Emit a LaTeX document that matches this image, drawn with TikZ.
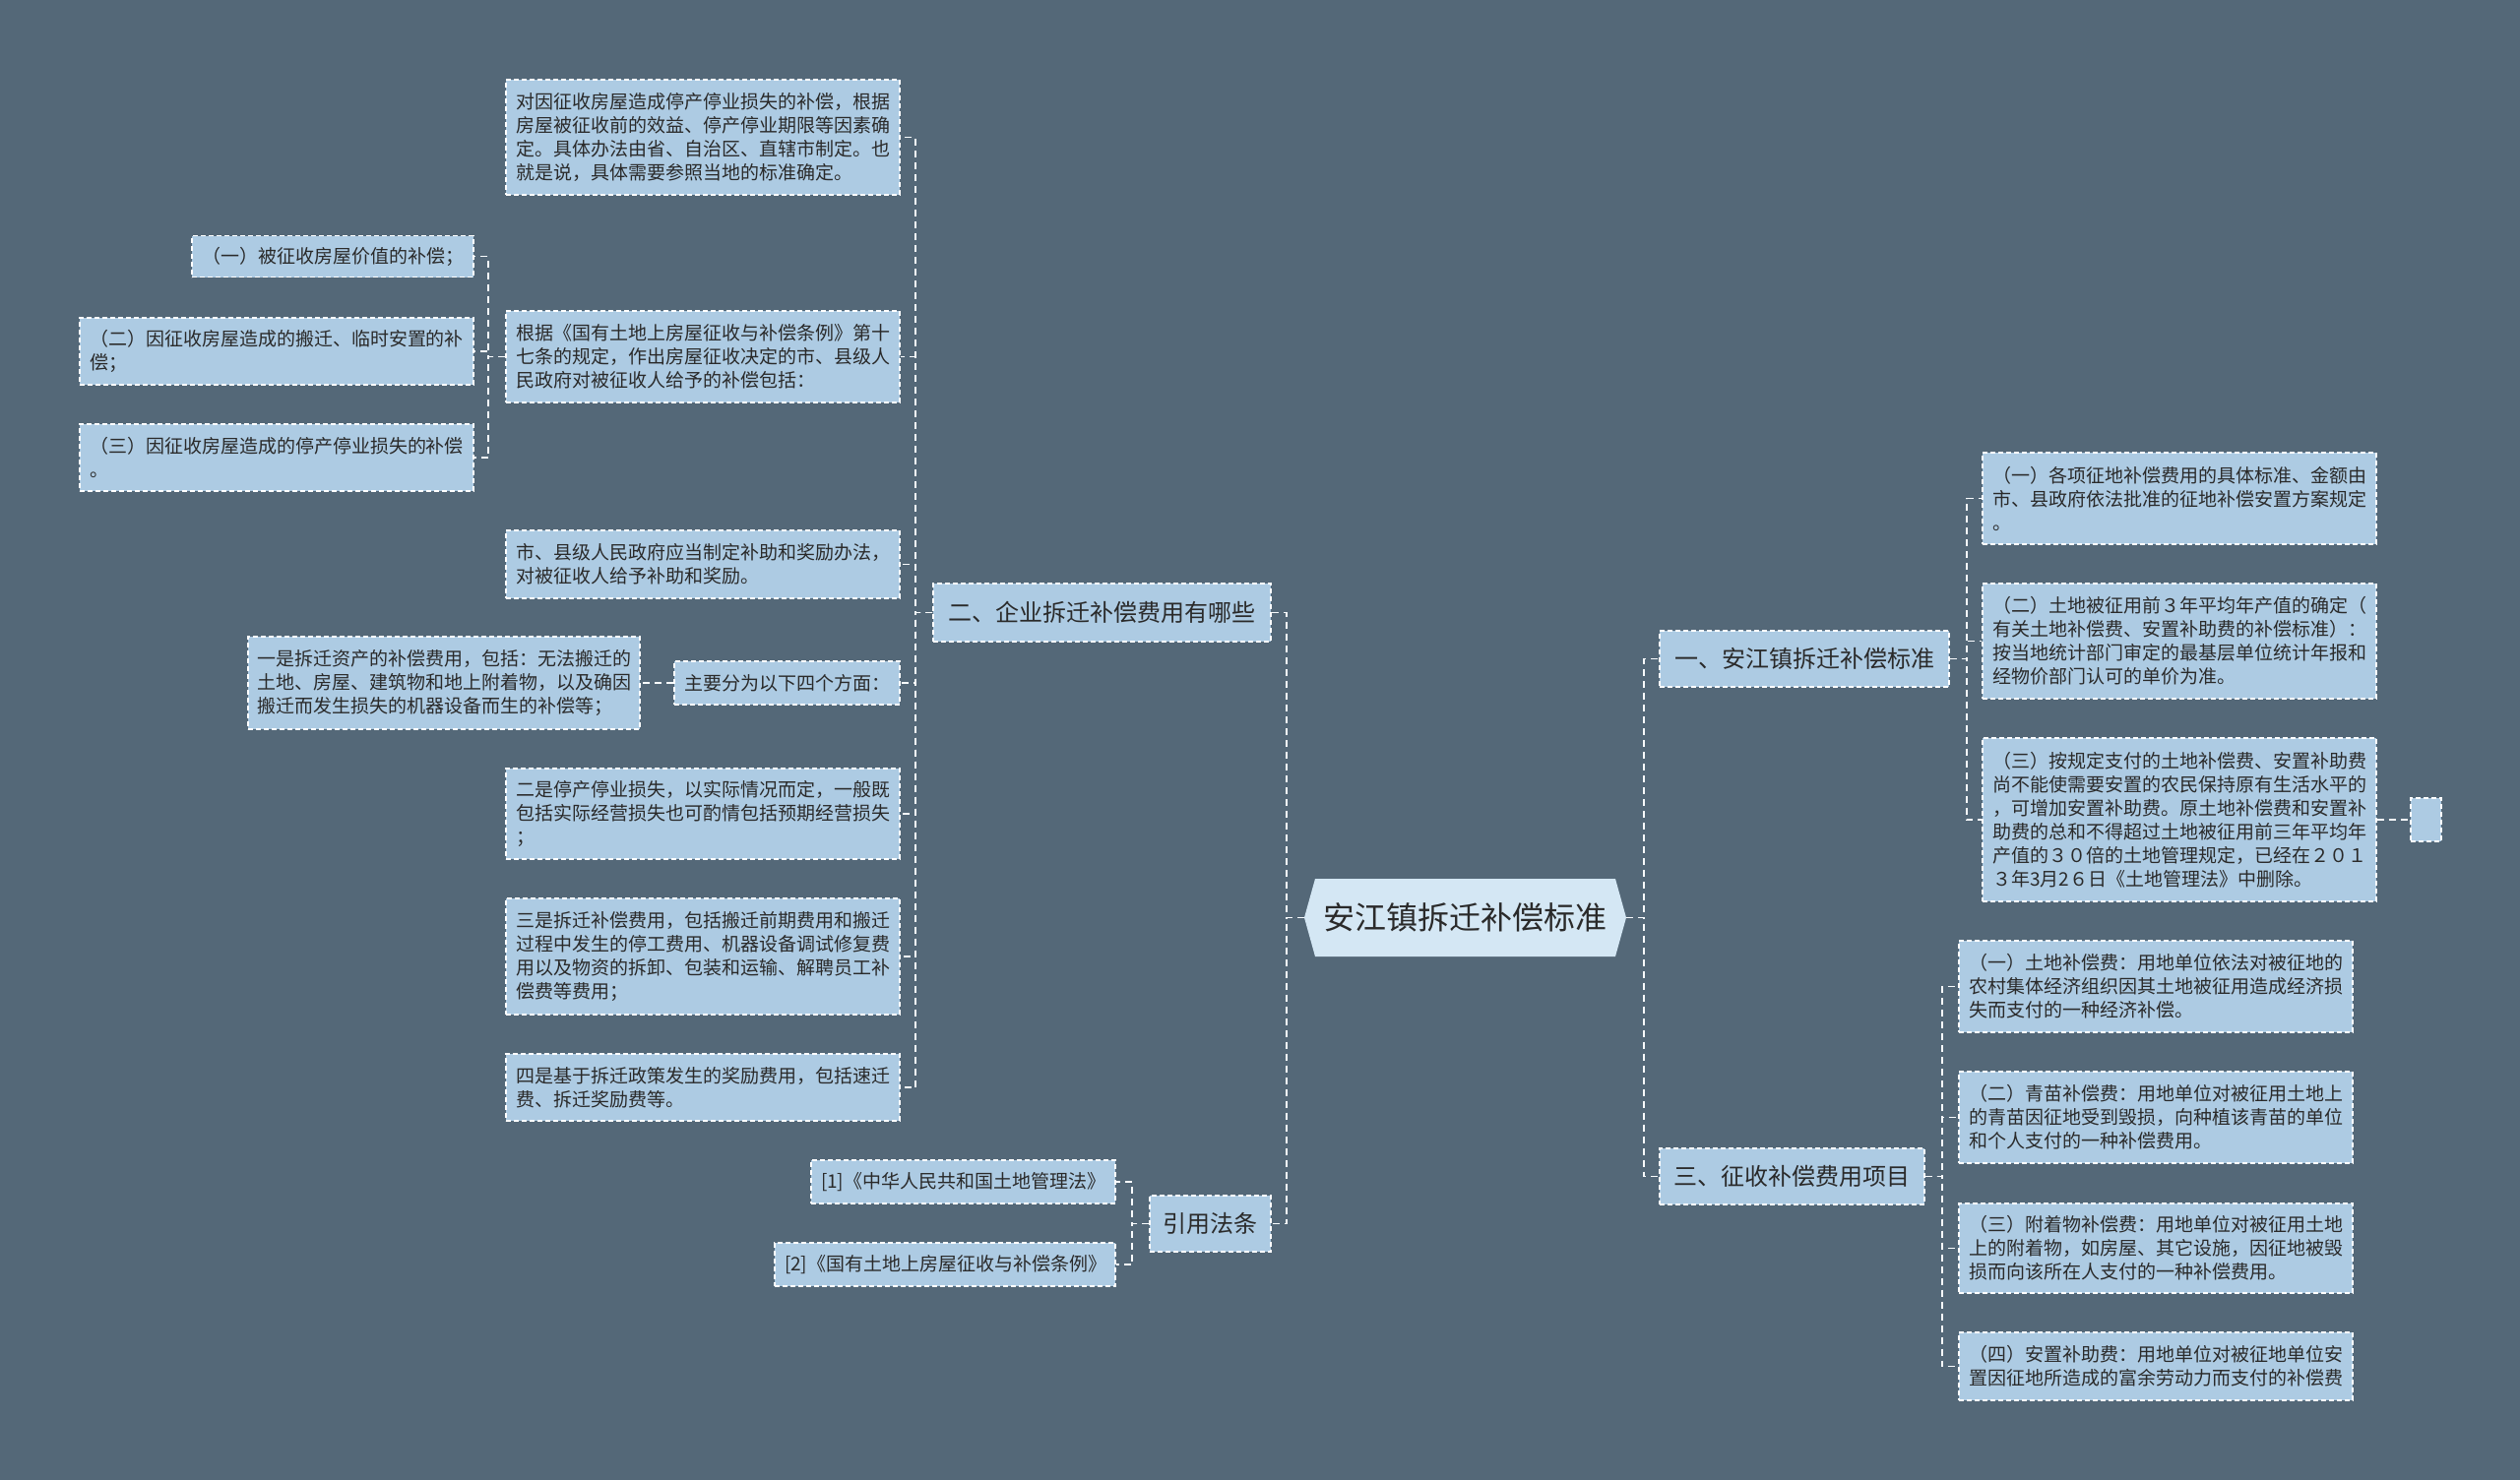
\documentclass[tikz,border=0pt]{standalone}
\usepackage{fontspec}
\newfontfamily\cjk{Noto Sans CJK SC}
\definecolor{bgc}{HTML}{546878}
\definecolor{boxfill}{HTML}{ADCBE3}
\definecolor{rootfill}{HTML}{D4E7F4}
\definecolor{txtc}{HTML}{2A2A2A}
\tikzset{
  box/.style={draw=white, line width=1.4pt, dash pattern=on 5pt off 3pt, fill=boxfill, text=txtc,
    font=\cjk\fontsize{19pt}{24pt}\selectfont, align=left, inner xsep=10pt, inner ysep=0pt, anchor=center},
  lvl/.style={draw=white, line width=1.4pt, dash pattern=on 5pt off 3pt, fill=boxfill, text=txtc,
    font=\cjk\fontsize{24pt}{28pt}\selectfont, align=center, inner sep=0pt, anchor=center},
  conn/.style={draw=white!92!boxfill, line width=1.8pt, dash pattern=on 7pt off 5pt},
}
\begin{document}
\begin{tikzpicture}[x=1pt,y=-1pt]
\useasboundingbox (0,0) rectangle (2560,1504);
\fill[bgc] (0,0) rectangle (2560,1504);

% root
\fill[rootfill] (1325,932.5) -- (1336,893) -- (1641,893) -- (1652,932.5) -- (1641,972) -- (1336,972) -- cycle;
\node[inner sep=0pt, minimum width=327pt, minimum height=79pt, text=txtc, font=\cjk\fontsize{32pt}{36pt}\selectfont] (root) at (1488.5,932.5) {安江镇拆迁补偿标准};

% level 1
\node[lvl, minimum width=343pt, minimum height=59pt] (l1) at (1119.5,622.5) {二、企业拆迁补偿费用有哪些};
\node[lvl, minimum width=123pt, minimum height=57pt] (l2) at (1229.5,1243.5) {引用法条};
\node[lvl, minimum width=294pt, minimum height=57pt] (l3) at (1833,669.5) {一、安江镇拆迁补偿标准};
\node[lvl, minimum width=269pt, minimum height=57pt] (l4) at (1820.5,1195.5) {三、征收补偿费用项目};

% left children
\node[box, text width=380pt, minimum height=117pt] (a1) at (714,139.5) {对因征收房屋造成停产停业损失的补偿，根据\\房屋被征收前的效益、停产停业期限等因素确\\定。具体办法由省、自治区、直辖市制定。也\\就是说，具体需要参照当地的标准确定。};
\node[box, text width=380pt, minimum height=93pt] (a2) at (714,362.5) {根据《国有土地上房屋征收与补偿条例》第十\\七条的规定，作出房屋征收决定的市、县级人\\民政府对被征收人给予的补偿包括：};
\node[box, text width=380pt, minimum height=69pt] (a3) at (714,573.5) {市、县级人民政府应当制定补助和奖励办法，\\对被征收人给予补助和奖励。};
\node[box, text width=209pt, minimum height=44pt] (a4) at (799.5,694) {主要分为以下四个方面：};
\node[box, text width=380pt, minimum height=92pt] (a5) at (714,827) {二是停产停业损失，以实际情况而定，一般既\\包括实际经营损失也可酌情包括预期经营损失\\；};
\node[box, text width=380pt, minimum height=118pt] (a6) at (714,972) {三是拆迁补偿费用，包括搬迁前期费用和搬迁\\过程中发生的停工费用、机器设备调试修复费\\用以及物资的拆卸、包装和运输、解聘员工补\\偿费等费用；};
\node[box, text width=380pt, minimum height=68pt] (a7) at (714,1105) {四是基于拆迁政策发生的奖励费用，包括速迁\\费、拆迁奖励费等。};

\node[box, text width=266pt, minimum height=42pt] (b1) at (338,260.5) {（一）被征收房屋价值的补偿；};
\node[box, text width=380pt, minimum height=68pt] (b2) at (281,357) {（二）因征收房屋造成的搬迁、临时安置的补\\偿；};
\node[box, text width=380pt, minimum height=68pt] (b3) at (281,465) {（三）因征收房屋造成的停产停业损失的补偿\\。};

\node[box, text width=380pt, inner xsep=9pt, minimum height=94pt] (c1) at (451,694) {一是拆迁资产的补偿费用，包括：无法搬迁的\\土地、房屋、建筑物和地上附着物，以及确因\\搬迁而发生损失的机器设备而生的补偿等；};

\node[box, text width=289pt, minimum height=44pt] (d1) at (978.5,1201) {[1]《中华人民共和国土地管理法》};
\node[box, text width=326pt, minimum height=44pt] (d2) at (960,1285) {[2]《国有土地上房屋征收与补偿条例》};

% right children
\node[box, text width=380pt, minimum height=93pt] (r1) at (2214,506.5) {（一）各项征地补偿费用的具体标准、金额由\\市、县政府依法批准的征地补偿安置方案规定\\。};
\node[box, text width=380pt, minimum height=117pt] (r2) at (2214,651.5) {（二）土地被征用前３年平均年产值的确定（\\有关土地补偿费、安置补助费的补偿标准）：\\按当地统计部门审定的最基层单位统计年报和\\经物价部门认可的单价为准。};
\node[box, text width=380pt, minimum height=166pt] (r3) at (2214,833) {（三）按规定支付的土地补偿费、安置补助费\\尚不能使需要安置的农民保持原有生活水平的\\，可增加安置补助费。原土地补偿费和安置补\\助费的总和不得超过土地被征用前三年平均年\\产值的３０倍的土地管理规定，已经在２０１\\３年3月2６日《土地管理法》中删除。};
\node[box, inner sep=0pt, minimum width=31pt, minimum height=44pt] (r3a) at (2464.5,833) {};

\node[box, text width=380pt, minimum height=93pt] (s1) at (2190,1002.5) {（一）土地补偿费：用地单位依法对被征地的\\农村集体经济组织因其土地被征用造成经济损\\失而支付的一种经济补偿。};
\node[box, text width=380pt, minimum height=93pt] (s2) at (2190,1135.5) {（二）青苗补偿费：用地单位对被征用土地上\\的青苗因征地受到毁损，向种植该青苗的单位\\和个人支付的一种补偿费用。};
\node[box, text width=380pt, minimum height=91pt] (s3) at (2190,1268.5) {（三）附着物补偿费：用地单位对被征用土地\\上的附着物，如房屋、其它设施，因征地被毁\\损而向该所在人支付的一种补偿费用。};
\node[box, text width=380pt, minimum height=69pt] (s4) at (2190,1388.5) {（四）安置补助费：用地单位对被征地单位安\\置因征地所造成的富余劳动力而支付的补偿费};

% connectors
\foreach \n in {l1,l2} \draw[conn] (root.west) -- ++(-18,0) |- (\n.east);
\foreach \n in {l3,l4} \draw[conn] (root.east) -- ++(18,0) |- (\n.west);
\foreach \n in {a1,a2,a3,a4,a5,a6,a7} \draw[conn] (l1.west) -- ++(-17,0) |- (\n.east);
\foreach \n in {b1,b2,b3} \draw[conn] (a2.west) -- ++(-17,0) |- (\n.east);
\draw[conn] (a4.west) -- (c1.east);
\foreach \n in {d1,d2} \draw[conn] (l2.west) -- ++(-17,0) |- (\n.east);
\foreach \n in {r1,r2,r3} \draw[conn] (l3.east) -- ++(17,0) |- (\n.west);
\draw[conn] (r3.east) -- (r3a.west);
\foreach \n in {s1,s2,s3,s4} \draw[conn] (l4.east) -- ++(17,0) |- (\n.west);
\end{tikzpicture}
\end{document}
